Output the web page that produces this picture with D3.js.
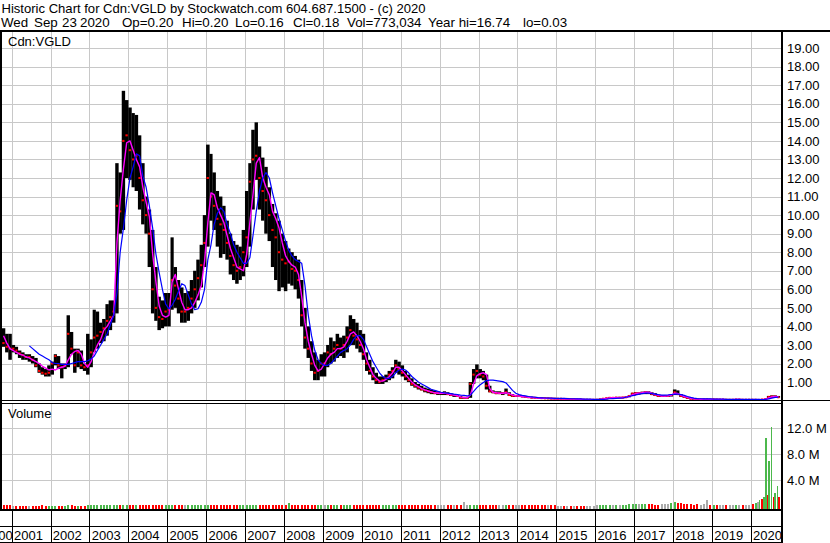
<!DOCTYPE html>
<html><head><meta charset="utf-8">
<script src="https://cdn.jsdelivr.net/npm/d3@7"></script>
<style>
html,body{margin:0;padding:0;background:#fff;}
svg{display:block;font-family:"Liberation Sans",Arial,sans-serif;}
</style></head><body>
<svg id="chart" width="830" height="543"></svg>
<script>
// ---------------- DATA (monthly, Sep 2000 .. Sep 2020) ----------------
const firstMonth = "2000-09";
const yearLabels = ["2000","2001","2002","2003","2004","2005","2006","2007","2008","2009","2010","2011","2012","2013","2014","2015","2016","2017","2018","2019","2020"];
const priceTicks = [1,2,3,4,5,6,7,8,9,10,11,12,13,14,15,16,17,18,19];
const volumeTicks = [4,8,12]; // millions

const highs = [
 4.8,3.9,3.6,3.6,
 3.0,2.9,2.7,2.6,2.5,2.5,2.4,2.3,2.0,1.8,1.7,1.9,
 2.1,2.5,2.4,2.0,2.0,4.6,3.7,2.8,2.8,2.7,2.0,3.6,
 3.3,4.9,4.8,4.2,4.4,5.2,5.4,5.4,12.8,12.3,16.7,16.2,
 15.8,15.5,15.4,14.3,12.8,11.0,10.3,9.2,7.2,5.6,5.4,5.8,
 5.8,8.8,7.2,6.5,6.1,5.8,5.9,6.5,7.0,7.6,8.4,10.0,
 13.8,13.3,12.3,11.3,11.0,10.5,9.7,9.0,8.6,8.4,8.3,9.2,
 11.3,12.8,14.6,15.0,13.7,13.1,12.6,11.5,10.6,10.1,9.7,9.0,
 8.6,8.2,8.0,7.8,7.6,6.5,5.0,4.0,3.2,2.6,2.2,2.5,
 2.6,3.0,3.4,3.2,3.6,3.4,3.5,4.0,4.6,4.4,4.2,3.8,
 3.6,2.6,2.2,1.8,1.5,1.3,1.3,1.4,1.6,1.8,2.2,2.1,
 1.9,1.6,1.4,1.2,1.0,0.9,0.8,0.7,0.65,0.6,0.55,0.5,
 0.45,0.5,0.45,0.4,0.35,0.3,0.25,0.2,0.2,1.0,1.7,1.95,
 1.7,1.6,1.4,0.8,0.55,0.5,0.5,0.45,0.65,0.45,0.35,0.3,
 0.3,0.28,0.25,0.22,0.2,0.2,0.18,0.18,0.17,0.16,0.15,0.15,
 0.14,0.14,0.13,0.13,0.12,0.12,0.1,0.1,0.09,0.09,0.08,0.08,
 0.08,0.1,0.12,0.15,0.18,0.18,0.2,0.2,0.2,0.22,0.28,0.42,
 0.45,0.45,0.48,0.5,0.5,0.45,0.4,0.32,0.3,0.3,0.3,0.35,
 0.6,0.55,0.35,0.25,0.2,0.15,0.12,0.12,0.1,0.1,0.1,0.1,
 0.1,0.1,0.09,0.09,0.09,0.08,0.08,0.09,0.09,0.08,0.08,0.08,
 0.08,0.08,0.07,0.08,0.1,0.25,0.28,0.28,0.25
];
const lows = [
 3.6,2.9,2.6,2.2,
 2.6,2.5,2.3,2.2,2.2,2.1,2.0,1.8,1.5,1.4,1.3,1.3,
 1.4,1.9,1.7,1.2,1.7,1.8,2.5,1.5,1.8,1.7,1.6,1.4,
 1.8,2.6,2.8,3.1,3.2,3.5,3.8,4.2,4.7,9.0,9.2,12.0,
 11.9,11.5,11.3,10.3,9.5,9.0,7.2,4.7,4.3,3.8,3.9,4.0,
 4.0,4.9,5.0,4.7,4.2,4.2,4.3,4.7,5.0,5.4,6.1,7.2,
 8.3,9.7,9.2,8.3,7.7,7.9,7.6,6.8,6.5,6.3,6.5,6.7,
 7.2,8.3,10.3,11.9,10.3,9.7,9.0,8.6,7.2,6.5,5.9,6.1,
 5.9,6.3,6.2,6.0,5.5,4.0,2.8,2.3,1.6,1.1,1.1,1.3,
 1.3,1.8,2.0,2.1,2.3,2.4,2.3,2.6,3.0,3.0,2.8,2.6,
 2.2,1.6,1.4,1.1,0.9,0.9,0.9,1.0,1.1,1.2,1.5,1.4,
 1.3,1.1,1.0,0.8,0.7,0.6,0.55,0.45,0.4,0.35,0.35,0.3,
 0.3,0.3,0.3,0.25,0.2,0.2,0.1,0.1,0.1,0.15,0.9,1.2,
 1.2,1.1,0.6,0.45,0.4,0.35,0.35,0.3,0.35,0.25,0.2,0.2,
 0.2,0.18,0.15,0.14,0.13,0.12,0.12,0.1,0.1,0.1,0.09,0.08,
 0.08,0.08,0.07,0.07,0.06,0.06,0.05,0.05,0.04,0.04,0.03,0.03,
 0.03,0.04,0.06,0.1,0.12,0.12,0.13,0.13,0.14,0.15,0.18,0.25,
 0.3,0.32,0.35,0.35,0.35,0.3,0.25,0.2,0.2,0.2,0.2,0.22,
 0.3,0.3,0.2,0.15,0.1,0.08,0.06,0.05,0.05,0.05,0.04,0.04,
 0.05,0.05,0.05,0.04,0.04,0.04,0.04,0.04,0.04,0.04,0.04,0.04,
 0.04,0.04,0.03,0.04,0.05,0.08,0.16,0.17,0.16
];
const closes = [
 3.8,3.1,2.9,2.8,
 2.8,2.7,2.55,2.45,2.35,2.35,2.2,1.9,1.6,1.5,1.45,1.5,
 2.0,2.4,1.9,1.8,1.9,3.6,2.8,1.9,2.6,1.9,1.8,1.9,
 2.6,3.4,3.5,3.7,3.9,4.3,4.5,4.8,10.5,10.2,14.0,14.3,
 13.5,13.0,13.2,12.0,10.8,10.0,9.0,6.0,5.0,4.5,4.4,4.8,
 4.9,6.5,6.2,5.5,4.8,4.8,5.0,5.5,6.0,6.6,7.3,8.5,
 12.0,11.0,10.5,9.8,9.5,9.2,8.5,7.8,7.3,7.0,7.2,8.0,
 8.8,11.8,13.0,13.2,12.0,11.3,10.8,10.0,9.2,8.8,8.0,7.6,
 7.4,7.5,7.1,7.0,6.5,4.6,3.4,2.8,2.0,1.5,1.6,2.0,
 2.0,2.6,2.5,2.8,3.0,2.8,3.0,3.4,3.8,3.5,3.3,3.0,
 2.5,2.0,1.6,1.3,1.1,1.0,1.1,1.2,1.4,1.6,1.9,1.7,
 1.5,1.3,1.1,0.9,0.8,0.7,0.6,0.55,0.5,0.45,0.4,0.4,
 0.4,0.4,0.35,0.3,0.3,0.25,0.15,0.15,0.15,0.9,1.4,1.6,
 1.4,1.3,0.8,0.5,0.45,0.4,0.4,0.4,0.45,0.3,0.25,0.25,
 0.25,0.22,0.2,0.18,0.16,0.15,0.14,0.13,0.12,0.12,0.11,0.1,
 0.1,0.1,0.09,0.09,0.08,0.08,0.07,0.06,0.05,0.05,0.05,0.05,
 0.05,0.07,0.1,0.13,0.15,0.15,0.16,0.16,0.17,0.18,0.25,0.38,
 0.4,0.4,0.42,0.45,0.42,0.35,0.3,0.25,0.25,0.25,0.25,0.3,
 0.45,0.35,0.25,0.2,0.15,0.1,0.08,0.07,0.07,0.07,0.07,0.05,
 0.07,0.06,0.06,0.06,0.05,0.05,0.05,0.06,0.06,0.05,0.05,0.05,
 0.05,0.05,0.04,0.06,0.08,0.2,0.22,0.22,0.18
];
const maShort = [
 null,3.5,3.1,2.8,
 2.7,2.6,2.5,2.45,2.35,2.3,2.2,2.1,2.0,1.85,1.75,1.65,
 1.7,1.65,1.75,1.8,1.85,2.2,2.5,2.65,2.7,2.5,2.0,1.8,
 2.1,2.6,3.0,3.3,3.8,4.0,4.3,4.6,8.5,10.8,12.5,13.9,
 14.0,13.5,13.0,12.6,11.5,10.7,9.9,7.9,6.4,5.1,4.6,4.5,
 4.6,6.4,6.8,6.0,5.3,4.9,4.9,5.0,5.3,5.7,6.2,7.5,
 9.6,11.2,11.1,10.4,10.0,9.6,8.9,8.2,7.7,7.2,7.1,7.0,
 7.9,9.6,11.1,12.8,13.1,12.0,11.5,11.1,10.2,9.8,9.3,8.5,
 7.8,7.5,7.3,7.2,6.8,5.6,4.2,3.2,2.5,1.9,1.6,1.7,
 2.0,2.3,2.5,2.6,2.8,2.8,2.9,3.2,3.6,3.7,3.5,3.2,
 2.8,2.2,1.8,1.4,1.2,1.05,1.05,1.15,1.3,1.5,1.8,1.8,
 1.6,1.4,1.2,1.0,0.85,0.75,0.65,0.58,0.52,0.47,0.42,0.4,
 0.4,0.4,0.37,0.32,0.3,0.26,0.2,0.16,0.15,0.3,0.9,1.35,
 1.45,1.5,1.4,0.65,0.45,0.42,0.4,0.4,0.42,0.38,0.3,0.26,
 0.24,0.22,0.2,0.18,0.17,0.15,0.14,0.13,0.12,0.12,0.11,0.1,
 0.1,0.1,0.09,0.09,0.08,0.08,0.07,0.06,0.06,0.05,0.05,0.05,
 0.05,0.06,0.09,0.12,0.14,0.15,0.16,0.16,0.17,0.18,0.22,0.32,
 0.38,0.4,0.42,0.45,0.45,0.4,0.33,0.28,0.25,0.25,0.26,0.3,
 0.4,0.38,0.3,0.22,0.17,0.12,0.09,0.08,0.07,0.07,0.06,0.06,
 0.06,0.06,0.06,0.06,0.05,0.05,0.05,0.06,0.06,0.05,0.05,0.05,
 0.05,0.05,0.05,0.05,0.07,0.14,0.2,0.22,0.2
];
const maLong = [
 null,null,null,null,
 null,null,null,null,null,2.95,2.8,2.65,2.5,2.4,2.3,2.2,
 2.05,2.0,2.0,1.95,1.95,1.95,2.0,2.05,2.1,2.1,2.1,2.15,
 2.25,2.4,2.7,3.0,3.3,3.6,4.1,4.6,5.8,8.0,9.3,10.8,
 12.0,12.6,13.3,13.2,12.1,11.5,10.5,9.3,7.9,6.9,6.0,5.2,
 4.95,5.15,5.45,5.9,6.3,6.2,5.7,5.2,4.9,4.95,5.3,6.0,
 7.6,8.4,9.5,10.1,10.4,10.2,9.5,9.0,8.4,8.0,7.7,7.4,
 7.4,7.7,8.9,10.2,11.3,12.0,12.3,12.0,11.2,10.5,9.8,9.2,
 8.6,8.1,7.8,7.6,7.5,7.4,6.2,4.6,3.5,2.7,2.2,2.0,
 1.9,1.9,2.0,2.2,2.4,2.6,2.7,2.8,3.0,3.3,3.5,3.5,
 3.3,2.9,2.5,2.1,1.8,1.5,1.3,1.2,1.2,1.3,1.5,1.65,
 1.7,1.65,1.5,1.3,1.15,1.0,0.9,0.8,0.7,0.6,0.55,0.5,
 0.45,0.42,0.4,0.38,0.35,0.33,0.3,0.28,0.25,0.3,0.5,0.7,
 0.85,0.98,1.08,1.1,1.1,1.08,1.05,1.02,0.95,0.75,0.55,0.4,
 0.32,0.28,0.25,0.22,0.2,0.18,0.16,0.15,0.14,0.13,0.13,0.12,
 0.12,0.12,0.12,0.11,0.1,0.1,0.09,0.09,0.08,0.08,0.08,0.07,
 0.07,0.07,0.07,0.08,0.1,0.11,0.12,0.13,0.14,0.18,0.22,0.27,
 0.3,0.35,0.38,0.4,0.4,0.38,0.35,0.32,0.3,0.3,0.31,0.33,
 0.35,0.35,0.32,0.28,0.22,0.17,0.13,0.11,0.1,0.09,0.09,0.09,
 0.08,0.08,0.08,0.08,0.07,0.07,0.07,0.07,0.07,0.07,0.07,0.07,
 0.07,0.07,0.07,0.06,0.07,0.09,0.13,0.17,0.19
];
// monthly volume, millions of shares (2020 given weekly below)
const volumes = [
 0.05,0.04,0.05,0.04,
 0.03,0.02,0.03,0.02,0.03,0.02,0.03,0.02,0.03,0.04,0.02,0.03,
 0.03,0.02,0.03,0.02,0.03,0.08,0.04,0.03,0.03,0.02,0.03,0.05,
 0.05,0.06,0.05,0.05,0.06,0.07,0.06,0.08,0.15,0.1,0.12,0.1,
 0.08,0.07,0.06,0.07,0.06,0.05,0.06,0.08,0.07,0.06,0.05,0.05,
 0.05,0.09,0.06,0.05,0.05,0.04,0.05,0.05,0.06,0.06,0.07,0.08,
 0.12,0.08,0.07,0.06,0.06,0.05,0.05,0.05,0.05,0.05,0.06,0.07,
 0.08,0.12,0.1,0.08,0.07,0.06,0.06,0.06,0.05,0.06,0.07,0.08,
 0.1,0.35,0.1,0.08,0.08,0.1,0.12,0.1,0.1,0.12,0.1,0.08,
 0.08,0.07,0.07,0.08,0.07,0.06,0.07,0.08,0.09,0.07,0.06,0.06,
 0.06,0.06,0.05,0.06,0.05,0.05,0.05,0.05,0.06,0.06,0.07,0.06,
 0.06,0.05,0.05,0.05,0.05,0.04,0.04,0.04,0.05,0.04,0.04,0.04,
 0.04,0.04,0.04,0.04,0.04,0.04,0.04,0.55,0.04,0.1,0.12,0.1,
 0.1,0.08,0.08,0.06,0.05,0.05,0.04,0.04,0.05,0.04,0.04,0.04,
 0.04,0.04,0.04,0.04,0.04,0.04,0.04,0.04,0.04,0.04,0.04,0.04,
 0.03,0.03,0.03,0.03,0.03,0.03,0.03,0.03,0.03,0.03,0.03,0.03,
 0.05,0.08,0.12,0.15,0.1,0.1,0.12,0.1,0.12,0.15,0.2,0.3,
 0.3,0.25,0.2,0.3,0.25,0.2,0.15,0.15,0.2,0.25,0.3,0.45,
 0.6,0.45,0.5,0.3,0.3,0.2,0.15,0.2,0.15,0.2,0.9,0.1,
 0.05,0.05,0.05,0.05,0.05,0.05,0.05,0.05,0.05,0.05,0.05,0.05,
 null,null,null,null,null,null,null,null,null
];
const weeklyDates2020 = ["2020-01-20","2020-02-17","2020-03-09","2020-03-23","2020-04-13","2020-05-04","2020-05-25","2020-06-08","2020-06-22","2020-07-13","2020-08-03","2020-08-17","2020-09-07","2020-09-21"];
const weeklyVolumes2020 = [0.3,0.4,0.6,0.9,1.1,1.3,10.5,1.6,7.0,12.2,1.3,2.0,3.1,1.4];
const weeklyTrend2020 = ["down","up","flat","up","down","up","up","down","up","up","down","up","up","down"];

const headerLine1 = "Historic Chart for Cdn:VGLD by Stockwatch.com 604.687.1500 - (c) 2020";
const headerLine2 = ["Wed","Sep","23","2020","Op=0.20","Hi=0.20","Lo=0.16","Cl=0.18","Vol=773,034","Year hi=16.74","lo=0.03"];

// ---------------- LAYOUT ----------------
const svg = d3.select("#chart");
const W = 830, FR = 782;
const line2X = [1,34,62,80,122,182,235,293,347,428,523];
const parseMonth = d3.timeParse("%Y-%m");
const parseDay = d3.timeParse("%Y-%m-%d");
const m0 = parseMonth(firstMonth);
const months = highs.map((_, i) => d3.timeMonth.offset(m0, i));

const x = d3.scaleTime().domain([new Date(2001,0,1), new Date(2020,0,1)]).range([11.7, 750.8]);
const y = d3.scaleLinear().domain([0,20]).range([400.6, 29.6]);
const yv = d3.scaleLinear().domain([0,16]).range([505.75, 402.7]);

const GRID = "#c8c8c8";
const GREEN = "#4cb84c", RED = "#ff0000", GRAY = "#aaaaaa";

svg.append("rect").attr("width", W).attr("height", 543).attr("fill", "#fff");

// header
svg.append("text").attr("x", 1.5).attr("y", 13).attr("font-size", "13.33px").attr("fill", "#000")
  .attr("textLength", 424).attr("lengthAdjust", "spacingAndGlyphs").text(headerLine1);
svg.append("g").selectAll("text").data(headerLine2).join("text")
  .attr("x", (d, i) => line2X[i]).attr("y", 27).attr("font-size", "13.33px").attr("fill", "#000").text(d => d);

const defs = svg.append("defs");
defs.append("clipPath").attr("id", "pclip").append("rect").attr("x", 2).attr("y", 32).attr("width", FR - 3).attr("height", 368);
defs.append("clipPath").attr("id", "vclip").append("rect").attr("x", 2).attr("y", 404).attr("width", FR - 3).attr("height", 105);

const yearTicks = d3.timeYear.range(new Date(2001,0,1), new Date(2020,1,1));

// grid: price
const grid = svg.append("g").attr("shape-rendering", "crispEdges").attr("stroke", GRID).attr("stroke-width", 1);
grid.selectAll(".hp").data(priceTicks).join("line")
  .attr("x1", 0).attr("x2", FR).attr("y1", d => Math.round(y(d)) + 0.5).attr("y2", d => Math.round(y(d)) + 0.5);
grid.selectAll(".vp").data(yearTicks).join("line")
  .attr("x1", d => Math.round(x(d)) + 0.5).attr("x2", d => Math.round(x(d)) + 0.5).attr("y1", 32).attr("y2", 400);
// grid: volume
grid.selectAll(".hv").data(volumeTicks).join("line")
  .attr("x1", 0).attr("x2", FR).attr("y1", d => Math.round(yv(d)) + 0.5).attr("y2", d => Math.round(yv(d)) + 0.5);
grid.selectAll(".vv").data(yearTicks).join("line")
  .attr("x1", d => Math.round(x(d)) + 0.5).attr("x2", d => Math.round(x(d)) + 0.5).attr("y1", 404).attr("y2", 509);

// price bars
const pg = svg.append("g").attr("clip-path", "url(#pclip)");
const idx = d3.range(highs.length);
const mx0 = i => x(months[i]);
const mx1 = i => x(d3.timeMonth.offset(months[i], 1));
pg.append("g").selectAll("rect").data(idx).join("rect")
  .attr("x", i => mx0(i) - 0.1)
  .attr("width", i => mx1(i) - mx0(i) + 0.2)
  .attr("y", i => y(highs[i]))
  .attr("height", i => Math.max(1.5, y(lows[i]) - y(highs[i])))
  .attr("fill", "#000");
pg.append("g").selectAll("rect").data(idx).join("rect")
  .attr("x", i => mx0(i) + 0.4)
  .attr("width", i => (mx1(i) - mx0(i)) * 0.7)
  .attr("y", i => y(closes[i]) - 1)
  .attr("height", 2)
  .attr("fill", RED);

const mid = i => (mx0(i) + mx1(i)) / 2;
const lineGen = arr => d3.line().defined(i => arr[i] != null).x(i => mid(i)).y(i => y(arr[i]));
pg.append("path").datum(idx).attr("fill", "none").attr("stroke", "#ff00ff").attr("stroke-width", 1.4)
  .attr("stroke-linejoin", "round").attr("d", lineGen(maShort));
pg.append("path").datum(idx).attr("fill", "none").attr("stroke", "#0000ff").attr("stroke-width", 1.2)
  .attr("stroke-linejoin", "round").attr("d", lineGen(maLong));

// volume bars
const vg = svg.append("g").attr("clip-path", "url(#vclip)").attr("shape-rendering", "crispEdges");
const trendColor = t => t === "up" ? GREEN : t === "down" ? RED : GRAY;
const monthTrend = i => i === 0 ? "flat" : closes[i] > closes[i-1] ? "up" : closes[i] < closes[i-1] ? "down" : "flat";
vg.append("g").selectAll("rect").data(idx.filter(i => volumes[i] != null)).join("rect")
  .attr("x", i => mid(i) - 1)
  .attr("width", 2)
  .attr("y", i => yv(volumes[i]))
  .attr("height", i => yv(0) - yv(volumes[i]) + 3)
  .attr("fill", i => trendColor(monthTrend(i)));
vg.append("g").selectAll("rect").data(d3.range(weeklyDates2020.length)).join("rect")
  .attr("x", i => x(parseDay(weeklyDates2020[i])) - 0.9)
  .attr("width", 1.8)
  .attr("y", i => yv(weeklyVolumes2020[i]))
  .attr("height", i => yv(0) - yv(weeklyVolumes2020[i]) + 3)
  .attr("fill", i => trendColor(weeklyTrend2020[i]));

// panel labels
svg.append("text").attr("x", 8).attr("y", 46).attr("font-size", "13px").attr("fill", "#000").text("Cdn:VGLD");
svg.append("text").attr("x", 8).attr("y", 418).attr("font-size", "13px").attr("fill", "#000").text("Volume");

// right axes
const pAxis = svg.append("g").attr("transform", `translate(${FR},0)`)
  .call(d3.axisRight(y).tickValues(priceTicks).tickSize(0).tickPadding(5).tickFormat(d3.format(".2f")));
const vAxis = svg.append("g").attr("transform", `translate(${FR},0)`)
  .call(d3.axisRight(yv).tickValues(volumeTicks).tickSize(0).tickPadding(5).tickFormat(d => d3.format(".1f")(d) + " M"));
[pAxis, vAxis].forEach(a => {
  a.select(".domain").remove();
  a.selectAll("text").attr("font-size", "13px").attr("font-family", "'Liberation Sans',Arial,sans-serif").attr("fill", "#000");
});

// x axis (year boxes)
const xAxis = svg.append("g").attr("transform", "translate(0,509.5)")
  .call(d3.axisBottom(x).tickValues(yearTicks).tickSize(33).tickFormat(d3.timeFormat("%Y")));
xAxis.select(".domain").remove();
xAxis.selectAll(".tick line").attr("stroke", "#000").attr("shape-rendering", "crispEdges");
xAxis.selectAll(".tick text").attr("x", 1.8).attr("y", 30.5).attr("dy", null).attr("text-anchor", "start")
  .attr("font-size", "13px").attr("font-family", "'Liberation Sans',Arial,sans-serif").attr("fill", "#000");
svg.append("text").attr("x", x(yearTicks[0]) + 1).attr("y", 540).attr("text-anchor", "end")
  .attr("font-size", "13px").attr("fill", "#000").text(yearLabels[0]);

// frame lines
const fr = svg.append("g").attr("stroke", "#000").attr("shape-rendering", "crispEdges");
fr.append("line").attr("x1", 0).attr("x2", W).attr("y1", 31).attr("y2", 31).attr("stroke-width", 2);
fr.append("line").attr("x1", 0).attr("x2", W).attr("y1", 400.5).attr("y2", 400.5).attr("stroke-width", 1.5);
fr.append("line").attr("x1", 0).attr("x2", FR).attr("y1", 403.5).attr("y2", 403.5).attr("stroke-width", 1.5);
fr.append("line").attr("x1", 0).attr("x2", FR).attr("y1", 509.5).attr("y2", 509.5).attr("stroke-width", 2);
fr.append("line").attr("x1", 0).attr("x2", FR).attr("y1", 526.5).attr("y2", 526.5).attr("stroke-width", 1.5);
fr.append("line").attr("x1", 0).attr("x2", FR).attr("y1", 542.5).attr("y2", 542.5).attr("stroke-width", 2);
fr.append("line").attr("x1", 1).attr("x2", 1).attr("y1", 30).attr("y2", 510).attr("stroke-width", 2);
fr.append("line").attr("x1", FR).attr("x2", FR).attr("y1", 30).attr("y2", 543).attr("stroke-width", 2);
</script>
</body></html>
